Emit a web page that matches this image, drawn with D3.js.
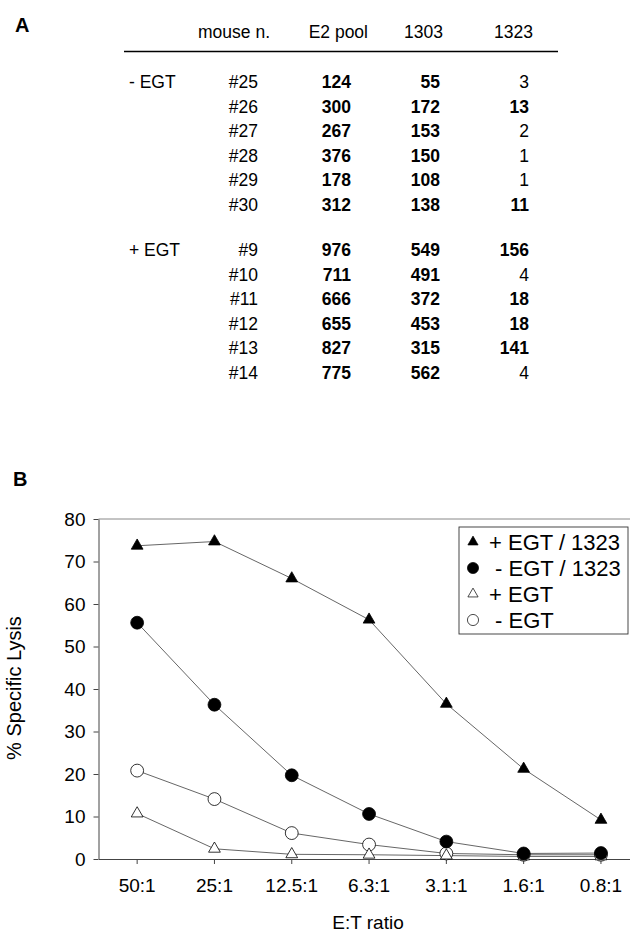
<!DOCTYPE html>
<html>
<head>
<meta charset="utf-8">
<script src="https://cdn.jsdelivr.net/npm/d3@7"></script>
<style>
  body { margin: 0; background: #fff; }
  svg { font-family: "Liberation Sans", Arial, sans-serif; }
</style>
</head>
<body>
<svg id="figure_svg"></svg>
<script>
// ---- panel A table data
var groups = ["- EGT", "+ EGT"];
var mice = [["#25", "#26", "#27", "#28", "#29", "#30"],
            ["#9", "#10", "#11", "#12", "#13", "#14"]];
var e2Pool = [[124, 300, 267, 376, 178, 312],
              [976, 711, 666, 655, 827, 775]];
var pep1303 = [[55, 172, 153, 150, 108, 138],
               [549, 491, 372, 453, 315, 562]];
var pep1323 = [[3, 13, 2, 1, 1, 11],
               [156, 4, 18, 18, 141, 4]];
var headers = ["mouse n.", "E2 pool", "1303", "1323"];

// ---- panel B chart data
var ratios = ["50:1", "25:1", "12.5:1", "6.3:1", "3.1:1", "1.6:1", "0.8:1"];
var plusEgt1323 = [73.7, 74.7, 66, 56.3, 36.5, 21.2, 9.2];
var minusEgt1323 = [55.6, 36.3, 19.7, 10.6, 4.1, 1.3, 1.4];
var plusEgt = [10.7, 2.4, 1.1, 1.0, 0.8, 0.6, 0.6];
var minusEgt = [20.8, 14.1, 6.1, 3.4, 1.3, 1.0, 1.0];
var seriesNames = ["+ EGT / 1323", " - EGT / 1323", "+ EGT", " - EGT"];
var yTicks = [0, 10, 20, 30, 40, 50, 60, 70, 80];

var viewWidth = 630;
var viewHeight = 936;

var svg = d3.select("#figure_svg")
    .attr("width", viewWidth)
    .attr("height", viewHeight);

//////////////////// panel A ////////////////////
svg.append("text")
    .attr("x", 15).attr("y", 32)
    .style("font-size", "20px").style("font-weight", "bold")
    .text("A");

var colEnds = [258, 351, 440, 529];     // right edge of value columns
var headEnds = [270, 368, 443, 533];    // right edge of header text
var rowPitch = 24.5;
var groupTop = [88, 256];

var table = svg.append("g").style("font-size", "17.5px");

table.selectAll(".head")
    .data(headers)
  .enter().append("text")
    .attr("class", "head")
    .attr("x", function(d, i) { return headEnds[i]; })
    .attr("y", 38)
    .style("text-anchor", "end")
    .text(function(d) { return d; });

table.append("line")
    .attr("x1", 124).attr("x2", 558)
    .attr("y1", 51.5).attr("y2", 51.5)
    .style("stroke", "#000")
    .style("stroke-width", 1.6);

groups.forEach(function(g, gi) {
  var rowY = function(d, i) { return groupTop[gi] + i * rowPitch; };

  table.append("text")
      .attr("x", 129).attr("y", groupTop[gi])
      .text(g);

  table.selectAll(".mouse" + gi)
      .data(mice[gi])
    .enter().append("text")
      .attr("x", colEnds[0]).attr("y", rowY)
      .style("text-anchor", "end")
      .text(function(d) { return d; });

  [e2Pool[gi], pep1303[gi], pep1323[gi]].forEach(function(col, ci) {
    table.selectAll(".col" + gi + "_" + ci)
        .data(col)
      .enter().append("text")
        .attr("x", colEnds[ci + 1]).attr("y", rowY)
        .style("text-anchor", "end")
        // small 1323 counts are printed in plain weight
        .style("font-weight", function(d) { return (ci < 2 || d >= 10) ? "bold" : "normal"; })
        .text(function(d) { return d; });
  });
});

//////////////////// panel B ////////////////////
svg.append("text")
    .attr("x", 13).attr("y", 486)
    .style("font-size", "20px").style("font-weight", "bold")
    .text("B");

// note: "top" is taken by window.top, so use plot* names
var plotLeft = 98.5, plotTop = 519, plotBottom = 859;

var x = d3.scaleBand()
    .domain(ratios)
    .range([plotLeft, plotLeft + 7 * 77.3]);
var y = d3.scaleLinear()
    .domain([0, 80])
    .range([plotBottom, plotTop]);

function cx(d, i) { return x(ratios[i]) + x.bandwidth() / 2; }

var chart = svg.append("g").style("font-size", "19px");

// top line at 80
chart.append("line")
    .attr("x1", plotLeft).attr("x2", viewWidth)
    .attr("y1", y(80)).attr("y2", y(80))
    .style("stroke", "#888").style("stroke-width", 1);

var yAxis = d3.axisLeft(y).tickValues(yTicks).tickSize(5).tickSizeOuter(0).tickPadding(8);
var xAxis = d3.axisBottom(x).tickSize(5).tickSizeOuter(0).tickPadding(15);

chart.append("g")
    .attr("class", "y axis")
    .attr("transform", "translate(" + plotLeft + ",0)")
    .call(yAxis);

chart.append("g")
    .attr("class", "x axis")
    .attr("transform", "translate(0," + plotBottom + ")")
    .call(xAxis);

chart.selectAll(".axis text")
    .style("font-size", "19px")
    .style("font-family", "'Liberation Sans', Arial, sans-serif")
    .style("fill", "#000");
chart.selectAll(".axis path, .axis line")
    .style("stroke", "#444");

chart.append("text")
    .attr("transform", "translate(21,688) rotate(-90)")
    .style("text-anchor", "middle")
    .style("font-size", "20px")
    .text("% Specific Lysis");

chart.append("text")
    .attr("x", 368).attr("y", 929)
    .style("text-anchor", "middle")
    .text("E:T ratio");

var series = [
  {values: plusEgt1323, shape: d3.symbolTriangle, size: 60, fill: "#000"},
  {values: minusEgt1323, shape: d3.symbolCircle, size: 130, fill: "#000"},
  {values: plusEgt, shape: d3.symbolTriangle, size: 60, fill: "#fff"},
  {values: minusEgt, shape: d3.symbolCircle, size: 130, fill: "#fff"}
];

var line = d3.line()
    .x(cx)
    .y(function(d) { return y(d); });

// lines first, markers on top; draw the low series first
series.slice().reverse().forEach(function(s) {
  chart.append("path")
      .datum(s.values)
      .attr("d", line)
      .style("fill", "none")
      .style("stroke", "#555")
      .style("stroke-width", 0.9);
});

series.slice().reverse().forEach(function(s) {
  chart.selectAll(null)
      .data(s.values)
    .enter().append("path")
      .attr("transform", function(d, i) { return "translate(" + cx(d, i) + "," + y(d) + ")"; })
      .attr("d", d3.symbol().type(s.shape).size(s.size))
      .style("fill", s.fill)
      .style("stroke", "#000")
      .style("stroke-width", 0.8);
});

// legend
var legend = chart.append("g");
legend.append("rect")
    .attr("x", 459).attr("y", 527)
    .attr("width", 169).attr("height", 107)
    .style("fill", "#fff")
    .style("stroke", "#333")
    .style("stroke-width", 0.9);

var entries = legend.selectAll(".entry")
    .data(series)
  .enter().append("g")
    .attr("class", "entry")
    .attr("transform", function(d, i) { return "translate(0," + (542 + i * 26) + ")"; });

entries.append("path")
    .attr("transform", "translate(473,0)")
    .attr("d", function(d) { return d3.symbol().type(d.shape).size(d.size * 0.75)(); })
    .style("fill", function(d) { return d.fill; })
    .style("stroke", "#000")
    .style("stroke-width", 0.7);

entries.append("text")
    .attr("x", 489)
    .attr("dy", "0.36em")
    .style("font-size", "22px")
    .style("white-space", "pre")
    .text(function(d, i) { return seriesNames[i]; });
</script>
</body>
</html>
